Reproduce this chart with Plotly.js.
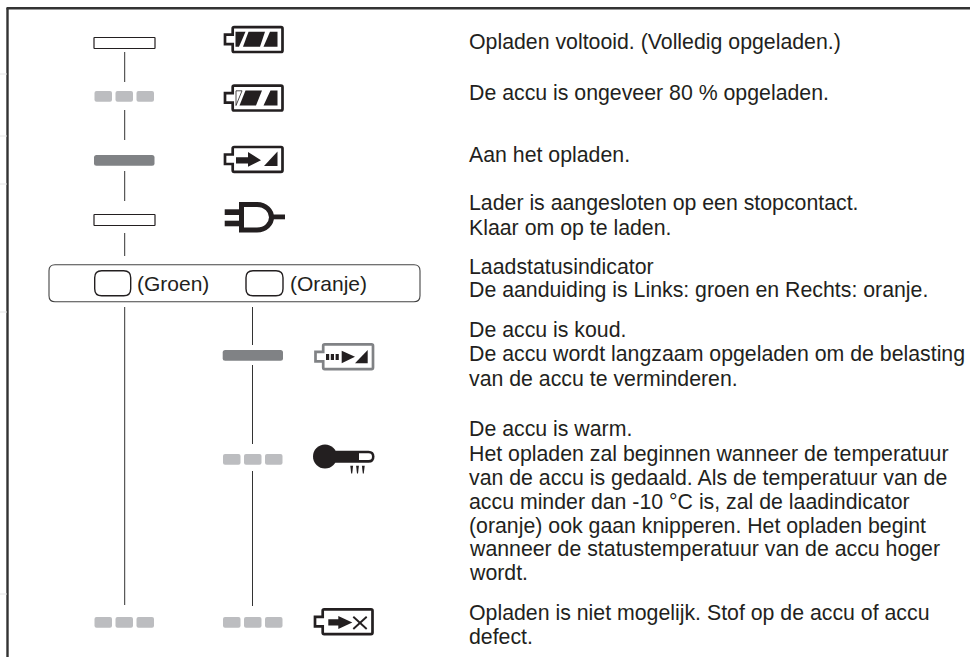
<!DOCTYPE html>
<html><head><meta charset="utf-8">
<script src="https://cdn.plot.ly/plotly-3.0.1.min.js"></script>
<style>html,body{margin:0;padding:0;background:#fff}</style></head>
<body><div id="chart" style="width:970px;height:657px"></div>
<script>
var textLines = [
 "Opladen voltooid. (Volledig opgeladen.)",
 "De accu is ongeveer 80 % opgeladen.",
 "Aan het opladen.",
 "Lader is aangesloten op een stopcontact.",
 "Klaar om op te laden.",
 "Laadstatusindicator",
 "De aanduiding is Links: groen en Rechts: oranje.",
 "De accu is koud.",
 "De accu wordt langzaam opgeladen om de belasting",
 "van de accu te verminderen.",
 "De accu is warm.",
 "Het opladen zal beginnen wanneer de temperatuur",
 "van de accu is gedaald. Als de temperatuur van de",
 "accu minder dan -10 °C is, zal de laadindicator",
 "(oranje) ook gaan knipperen. Het opladen begint",
 "wanneer de statustemperatuur van de accu hoger",
 "wordt.",
 "Opladen is niet mogelijk. Stof op de accu of accu",
 "defect."
];
var textBaseline = [49.3,100,162,210.7,235,274,297.7,337.7,361.7,386,436.7,461,485,509,533,556.7,580.7,620,644];
var legendLabels = ["(Groen)","(Oranje)"];
var legendLabelX = [135.5,289];
var outlineBars = [[94,37.5,155,48.5],[94,214.5,155,225.5]];
var solidBars = [[94,155,154.5,165.7],[222.7,350,283,360.7]];
var blinkRows = [[94.5,91],[223,454],[94.5,617],[223,617]];
var blinkSegX = [[0,17.5],[21,38.5],[42,59.5]];
var connectors = [[124.7,52,82],[124.7,110,140],[124.7,171,201],[124.7,233,256],[124.7,307,605],
                  [252.5,307,345],[252.5,365,444],[252.5,471,606]];
var edgeTicks = [74,136,184,312,594];
var LED_GREY = "#bcbdc0", LED_DARK = "#808285", INK = "#231f20";

function rr(x0,y0,x1,y1,r){
  return "M"+(x0+r)+","+y0+" L"+(x1-r)+","+y0+" Q"+x1+","+y0+" "+x1+","+(y0+r)+
    " L"+x1+","+(y1-r)+" Q"+x1+","+y1+" "+(x1-r)+","+y1+" L"+(x0+r)+","+y1+
    " Q"+x0+","+y1+" "+x0+","+(y1-r)+" L"+x0+","+(y0+r)+" Q"+x0+","+y0+" "+(x0+r)+","+y0+" Z";
}
function poly(p){ return "M"+p.map(function(q){return q[0]+","+q[1];}).join(" L")+" Z"; }
var shapes = [];
function fillP(path,c){ shapes.push({type:"path",xref:"x",yref:"y",path:path,fillcolor:c,line:{width:0}}); }
function strokeP(path,c,w,f){ shapes.push({type:"path",xref:"x",yref:"y",path:path,fillcolor:f||"rgba(0,0,0,0)",line:{color:c,width:w}}); }
function seg(x0,y0,x1,y1,c,w){ shapes.push({type:"line",xref:"x",yref:"y",x0:x0,y0:y0,x1:x1,y1:y1,line:{color:c,width:w}}); }

// frame
seg(6.5,8.2,970,8.2,"#333",2.4); seg(7.5,8,7.5,657,"#333",2.4);
edgeTicks.forEach(function(y){ seg(0,y,7,y,"#e4e4e4",1); });
// connectors
connectors.forEach(function(c){ seg(c[0],c[1],c[0],c[2],"#333",1); });
// LEDs
outlineBars.forEach(function(b){ strokeP(rr(b[0],b[1],b[2],b[3],0.5),INK,1.2,"#fff"); });
solidBars.forEach(function(b){ fillP(rr(b[0],b[1],b[2],b[3],2.5),LED_DARK); });
blinkRows.forEach(function(r){ blinkSegX.forEach(function(s){ fillP(rr(r[0]+s[0],r[1],r[0]+s[1],r[1]+10.8,2),LED_GREY); }); });
// legend box
strokeP(rr(49,264.7,420,301.7,6),"#444",1.1);
strokeP(rr(94.7,270.7,130.7,295.7,7),INK,1.4);
strokeP(rr(246,270.7,283,295.7,7),INK,1.4);

function battery(x0,y0,c,w){
  var L=x0+7.7,R=x0+57.5,T=y0,B=y0+24.8,tT=y0+7.5,tB=y0+17;
  strokeP("M"+L+","+(T+1.5)+" Q"+L+","+T+" "+(L+1.5)+","+T+" L"+(R-1.5)+","+T+" Q"+R+","+T+" "+R+","+(T+1.5)+
    " L"+R+","+(B-1.5)+" Q"+R+","+B+" "+(R-1.5)+","+B+" L"+(L+1.5)+","+B+" Q"+L+","+B+" "+L+","+(B-1.5)+
    " L"+L+","+tB+" L"+x0+","+tB+" L"+x0+","+tT+" L"+L+","+tT+" Z",c,w,"#fff");
}
// battery full
battery(225,27.2,INK,2.7);
fillP(poly([[235.5,31.8],[245.5,31.8],[239,46.8],[235.5,46.8]]),INK);
fillP(poly([[248.5,31.8],[265,31.8],[260,46.8],[243,46.8]]),INK);
fillP(poly([[270,31.8],[277.5,31.8],[277.5,46.8],[263.5,46.8]]),INK);
// battery 80
battery(225,85.7,INK,2.7);
strokeP(poly([[236,90.8],[242,90.8],[236,105.5]]),INK,0.8);
fillP(poly([[245.5,90.6],[262,90.6],[256,105.6],[239.5,105.6]]),INK);
fillP(poly([[270.5,90.6],[277.5,90.6],[277.5,105.6],[263.5,105.6]]),INK);
// battery charging
battery(225,147,INK,2.7);
fillP(poly([[236,157.2],[248,157.2],[248,152],[261,160.3],[248,166.7],[248,163.5],[236,163.5]]),INK);
fillP(poly([[264,165.9],[277.5,151.5],[277.5,165.9]]),INK);
// plug
fillP(poly([[224.7,209.3],[240,209.3],[240,215],[224.7,215]]),INK);
fillP(poly([[224.7,220.7],[240,220.7],[240,226.3],[224.7,226.3]]),INK);
fillP(poly([[272,214.5],[285,214.5],[285,219.3],[272,219.3]]),INK);
strokeP("M241.5,204.5 L257,204.5 C266,204.5 271.5,211 271.5,217.3 C271.5,223.5 266,230 257,230 L241.5,230 Z",INK,5,"#fff");
// cold battery
battery(315.5,344.3,LED_DARK,2.7);
[326,330.8,335.6].forEach(function(x){ fillP(poly([[x,354],[x+3.2,354],[x+3.2,360],[x,360]]),INK); });
fillP(poly([[341.7,350.7],[355,356.7],[341.7,363.3]]),INK);
fillP(poly([[355,363.3],[367.7,350],[367.7,363.3]]),INK);
// thermometer
shapes.push({type:"circle",xref:"x",yref:"y",x0:313,y0:444.5,x1:337,y1:468.5,fillcolor:INK,line:{width:0}});
fillP(rr(330,450.7,374.5,462.7,6),INK);
fillP("M359,453.3 L368.5,453.3 Q372,453.3 372,456.7 Q372,460 368.5,460 L359,460 Z","#fff");
[351.7,357.5,363.3].forEach(function(x){ fillP(poly([[x-1.4,465.7],[x+1.4,465.7],[x+0.5,473.5],[x-0.5,473.5]]),INK); });
// failed battery
battery(315,609.3,INK,2.7);
fillP(poly([[328.3,619.2],[338.3,619.2],[338.3,616],[352.3,622.4],[338.3,629],[338.3,625.4],[328.3,625.4]]),INK);
seg(353.3,616.7,366.7,629,INK,1.9); seg(366.7,616.7,353.3,629,INK,1.9);

var annotations = [];
textLines.forEach(function(t,i){
  annotations.push({text:t,x:467.7,y:textBaseline[i]-7.4,xref:"x",yref:"y",xanchor:"left",yanchor:"middle",showarrow:false,
    borderpad:0,font:{family:"Liberation Sans",size:21.3,color:INK}});
});
legendLabels.forEach(function(t,i){
  annotations.push({text:t,x:legendLabelX[i],y:283,xref:"x",yref:"y",xanchor:"left",yanchor:"middle",showarrow:false,
    borderpad:0,font:{family:"Liberation Sans",size:21,color:INK}});
});

Plotly.newPlot("chart",[{x:[],y:[],type:"scatter",mode:"lines",showlegend:false,hoverinfo:"skip"}],{
  width:970,height:657,margin:{l:0,r:0,t:0,b:0},paper_bgcolor:"#fff",plot_bgcolor:"#fff",showlegend:false,
  xaxis:{range:[0,970],visible:false,fixedrange:true},
  yaxis:{range:[657,0],visible:false,fixedrange:true},
  shapes:shapes,annotations:annotations
},{displayModeBar:false,staticPlot:true});
</script></body></html>
